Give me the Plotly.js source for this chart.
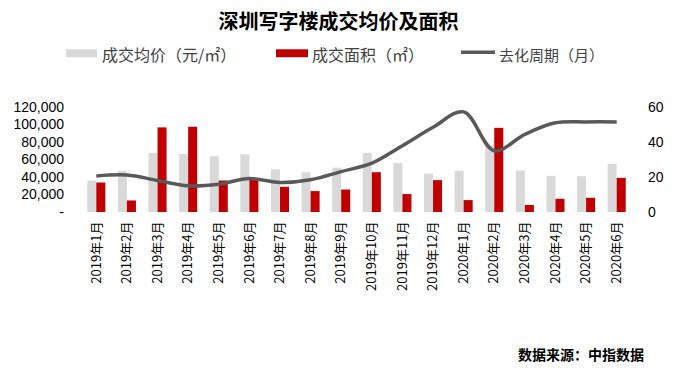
<!DOCTYPE html>
<html>
<head>
<meta charset="utf-8">
<script src="https://cdn.plot.ly/plotly-3.0.1.min.js"></script>
<style>html,body{margin:0;padding:0;background:#fff;}#chart{width:677px;height:368px;}</style>
</head>
<body>
<div id="chart"></div>
<script>
const months = ["2019年1月","2019年2月","2019年3月","2019年4月","2019年5月","2019年6月","2019年7月","2019年8月","2019年9月","2019年10月","2019年11月","2019年12月","2020年1月","2020年2月","2020年3月","2020年4月","2020年5月","2020年6月"];
const avgPrice = [35900, 47000, 67400, 66300, 63700, 65900, 48900, 45500, 50700, 67400, 56000, 43900, 47000, 76000, 47300, 41300, 40900, 54900];
const dealArea = [33700, 13200, 96700, 97400, 36000, 36700, 28800, 23900, 25700, 45500, 20500, 36400, 13600, 96200, 8000, 15100, 16300, 39000];
const cycle = [20.6, 21.1, 18.0, 15.0, 15.9, 19.1, 16.9, 18.4, 23.1, 27.9, 37.9, 48.4, 57.2, 35.0, 44.4, 51.0, 51.5, 51.5];
const leftTicks = [0, 20000, 40000, 60000, 80000, 100000, 120000];
const leftTickText = ["-", "20,000", "40,000", "60,000", "80,000", "100,000", "120,000"];
const rightTicks = [0, 20, 40, 60];
const seriesNames = ["成交均价（元/㎡）", "成交面积（㎡）", "去化周期（月）"];

const W = 677, H = 368;
const L = 81, R = 632, T = 107, B = 212.5;
const px = x => (x - L) / (R - L);
const py = y => (B - y) / (B - T);

const cGray = "#D9D9D9", cRed = "#C00000", cLine = "#595959";
const cjk = "'Noto Sans CJK SC', 'Liberation Sans', sans-serif";
const num = "'Liberation Sans', 'Noto Sans CJK SC', sans-serif";

const traces = [
  {type: "bar", x: months, y: avgPrice, name: seriesNames[0], marker: {color: cGray}, yaxis: "y", hoverinfo: "skip"},
  {type: "bar", x: months, y: dealArea, name: seriesNames[1], marker: {color: cRed}, yaxis: "y", hoverinfo: "skip"},
  {type: "scatter", mode: "lines", x: months, y: cycle, name: seriesNames[2], yaxis: "y2",
   line: {color: cLine, width: 3.5, shape: "spline", smoothing: 1}, hoverinfo: "skip"}
];

const legendY = 54;
const shapes = [
  {type: "rect", xref: "paper", yref: "paper", x0: px(66), x1: px(97), y0: py(49), y1: py(57), fillcolor: cGray, line: {width: 0}},
  {type: "rect", xref: "paper", yref: "paper", x0: px(276), x1: px(308), y0: py(49), y1: py(57), fillcolor: cRed, line: {width: 0}},
  {type: "line", xref: "paper", yref: "paper", x0: px(461), x1: px(495), y0: py(52), y1: py(52), line: {color: cLine, width: 3.5}}
];
const annotations = [
  {xref: "paper", yref: "paper", x: px(100), y: py(legendY), xanchor: "left", yanchor: "middle", text: seriesNames[0], showarrow: false, font: {family: cjk, size: 16, color: "#404040"}},
  {xref: "paper", yref: "paper", x: px(310), y: py(legendY), xanchor: "left", yanchor: "middle", text: seriesNames[1], showarrow: false, font: {family: cjk, size: 16, color: "#404040"}},
  {xref: "paper", yref: "paper", x: px(497), y: py(legendY), xanchor: "left", yanchor: "middle", text: seriesNames[2], showarrow: false, font: {family: cjk, size: 15, color: "#404040"}},
  {xref: "paper", yref: "paper", x: px(646), y: py(355), xanchor: "right", yanchor: "middle", text: "<b>数据来源：中指数据</b>", showarrow: false, font: {family: cjk, size: 14, color: "#000"}}
];

const layout = {
  width: W, height: H,
  margin: {l: L, r: W - R, t: T, b: H - B, pad: 0},
  paper_bgcolor: "#fff", plot_bgcolor: "#fff",
  showlegend: false,
  barmode: "group", bargap: 0.41, bargroupgap: 0,
  title: {text: "<b>深圳写字楼成交均价及面积</b>", x: 0.5, xref: "container", y: 1 - 22 / H, yanchor: "middle", xanchor: "center",
          font: {family: cjk, size: 20, color: "#000"}},
  xaxis: {type: "category", tickangle: -90, showgrid: false, zeroline: false, showline: false, ticks: "",
          ticklabelstandoff: 6, tickfont: {family: cjk, size: 13, color: "#000"}, automargin: false},
  yaxis: {range: [0, 120000], tickvals: leftTicks, ticktext: leftTickText, showgrid: false, zeroline: false, showline: false,
          ticks: "", ticklabelstandoff: 16, tickfont: {family: num, size: 14, color: "#000"}, automargin: false, fixedrange: true},
  yaxis2: {range: [0, 60], tickvals: rightTicks, overlaying: "y", side: "right", showgrid: false, zeroline: false, showline: false,
           ticks: "", ticklabelstandoff: 15, tickfont: {family: num, size: 14, color: "#000"}, automargin: false},
  shapes: shapes,
  annotations: annotations
};

Plotly.newPlot("chart", traces, layout, {staticPlot: true, displayModeBar: false});
</script>
</body>
</html>
